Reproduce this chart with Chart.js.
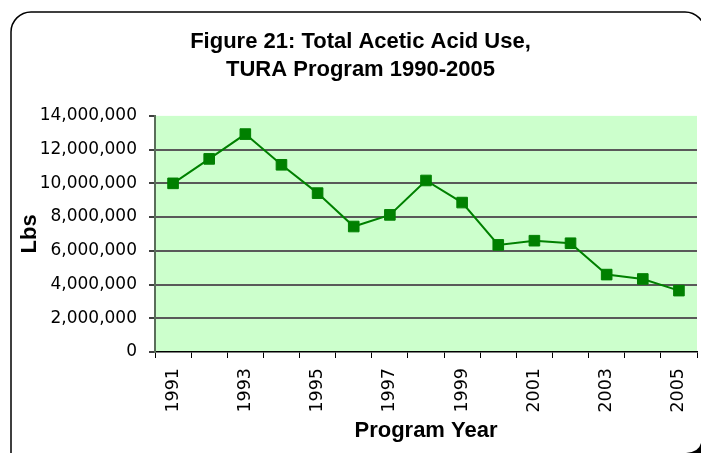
<!DOCTYPE html>
<html>
<head>
<meta charset="utf-8">
<script src="https://cdn.jsdelivr.net/npm/chart.js@4"></script>
<style>
  html, body { margin: 0; padding: 0; background: #fff; }
  #wrap { width: 701px; height: 453px; }
</style>
</head>
<body>
<div id="wrap"><canvas id="myChart" width="701" height="453"></canvas></div>
<script>
const years = ['1991', '1992', '1993', '1994', '1995', '1996', '1997', '1998',
  '1999', '2000', '2001', '2002', '2003', '2004', '2005'];
const aceticUse = [10000000, 11450000, 12920000, 11100000, 9420000, 7440000, 8130000,
  10170000, 8860000, 6350000, 6600000, 6450000, 4590000, 4330000, 3640000];
const yTicks = [0, 2000000, 4000000, 6000000, 8000000, 10000000, 12000000, 14000000];
const titleLines = ['Figure 21: Total Acetic Acid Use,', 'TURA Program 1990-2005'];

// rounded frame behind the whole chart + green plot background
const framePlugin = {
  id: 'frame',
  beforeDraw(chart) {
    const c = chart.ctx;
    const a = chart.chartArea;
    c.save();
    c.fillStyle = '#fff';
    c.fillRect(0, 0, chart.width, chart.height);
    c.beginPath();
    c.roundRect(11, 12, 694, 470, 20);
    c.lineWidth = 1.5;
    c.strokeStyle = '#000';
    c.stroke();
    // shadow corner bottom right
    c.beginPath();
    c.moveTo(701, 443);
    c.quadraticCurveTo(699, 452, 686, 453);
    c.lineTo(701, 453);
    c.closePath();
    c.fillStyle = '#000';
    c.fill();
    c.fillStyle = '#ccffcc';
    c.fillRect(a.left, a.top, a.right - a.left, a.bottom - a.top);
    c.restore();
  }
};

const ctx = document.getElementById('myChart');

new Chart(ctx, {
  type: 'line',
  data: {
    labels: years,
    datasets: [{
      label: 'Lbs',
      data: aceticUse,
      borderColor: '#008000',
      backgroundColor: '#008000',
      borderWidth: 2,
      pointStyle: 'rect',
      pointRadius: 7.5,
      pointBorderWidth: 1,
      tension: 0,
    }],
  },
  options: {
    responsive: false,
    animation: false,
    layout: { autoPadding: false, padding: { left: 24, right: 4, top: 0, bottom: 0 } },
    plugins: {
      legend: { display: false },
      tooltip: { enabled: false },
      title: {
        display: true,
        text: titleLines,
        color: '#000',
        font: { family: 'Liberation Sans', size: 22, weight: 'bold', lineHeight: 1.27 },
        padding: { top: 28, bottom: 32 },
      },
    },
    scales: {
      x: {
        offset: true,
        grid: {
          offset: true,
          drawOnChartArea: false,
          drawTicks: true,
          tickLength: 6,
          tickColor: '#000',
        },
        border: { color: '#000', width: 1.5 },
        ticks: {
          autoSkip: false,
          maxRotation: 90,
          minRotation: 90,
          padding: 10,
          color: '#000',
          font: { family: 'DejaVu Sans', size: 17.5 },
          callback: function (v, i) { return i % 2 === 0 ? this.getLabelForValue(v) : ''; },
        },
        title: {
          display: true,
          text: 'Program Year',
          color: '#000',
          font: { family: 'Liberation Sans', size: 22, weight: 'bold' },
          padding: { top: 0, bottom: 9 },
        },
        afterFit(scale) {
          scale.height = 101;
          scale.paddingLeft = 0;
          scale.paddingRight = 0;
        },
      },
      y: {
        min: 0,
        max: 14000000,
        afterBuildTicks(scale) { scale.ticks = yTicks.map(v => ({ value: v })); },
        grid: {
          color: c => (c.tick && (c.tick.value === 14000000 || c.tick.value === 0)) ? 'rgba(0,0,0,0)' : '#595959',
          lineWidth: 2,
          tickColor: '#404040',
          tickLength: 6,
        },
        border: { color: '#5a6e5a', width: 2 },
        ticks: {
          padding: 12,
          color: '#000',
          font: { family: 'DejaVu Sans', size: 17 },
          callback: v => v.toLocaleString('en-US'),
        },
        title: {
          display: true,
          text: 'Lbs',
          color: '#000',
          font: { family: 'Liberation Sans', size: 22, weight: 'bold' },
          padding: { top: -7, bottom: 0 },
        },
        afterFit(scale) { scale.width = 131; },
      },
    },
  },
  plugins: [framePlugin],
});
</script>
</body>
</html>
